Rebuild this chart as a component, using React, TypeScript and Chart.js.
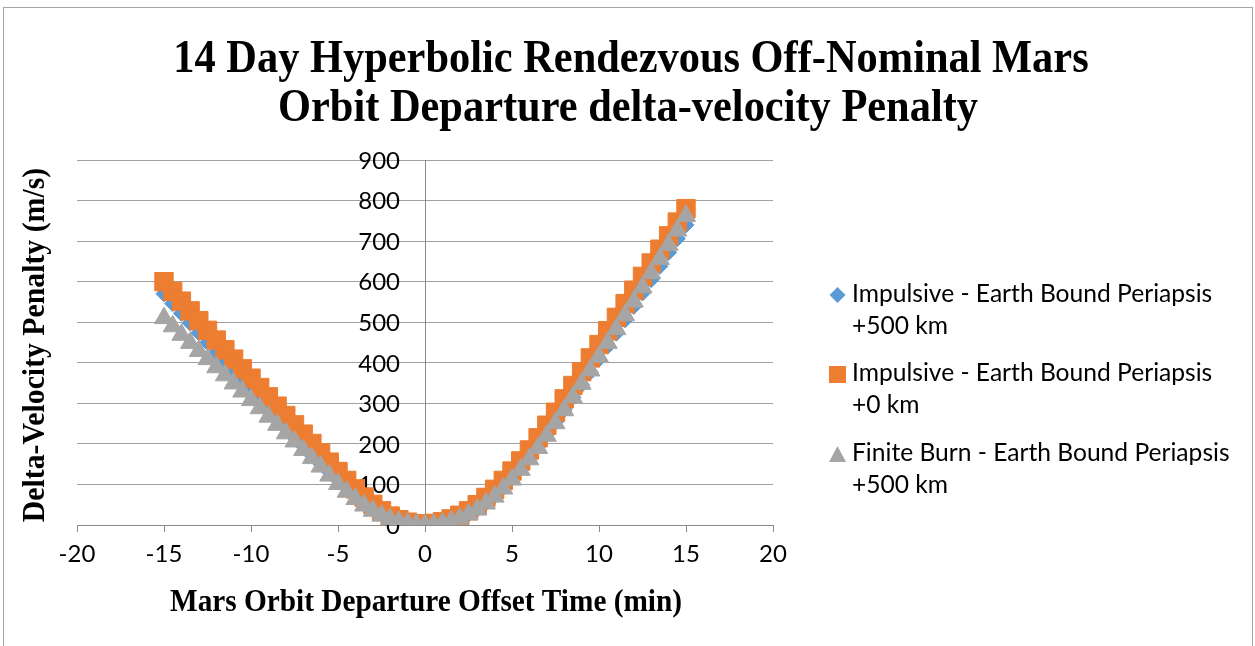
import React, { useEffect, useRef } from 'react';
import { Chart, registerables } from 'chart.js';

Chart.register(...registerables);

const titleLines = ['14 Day Hyperbolic Rendezvous Off-Nominal Mars', 'Orbit Departure delta-velocity Penalty'];
const xAxisTitle = 'Mars Orbit Departure Offset Time (min)';
const yAxisTitle = 'Delta-Velocity Penalty (m/s)';

const xTickValues = [-20, -15, -10, -5, 0, 5, 10, 15, 20];
const xTickLabels = ['-20', '-15', '-10', '-5', '0', '5', '10', '15', '20'];
const yTickValues = [0, 100, 200, 300, 400, 500, 600, 700, 800, 900];
const yTickLabels = ['0', '100', '200', '300', '400', '500', '600', '700', '800', '900'];

const seriesNames = [
  'Impulsive - Earth Bound Periapsis +500 km',
  'Impulsive - Earth Bound Periapsis +0 km',
  'Finite Burn - Earth Bound Periapsis +500 km',
];
const legendLines = [
  ['Impulsive - Earth Bound Periapsis', '+500 km'],
  ['Impulsive - Earth Bound Periapsis', '+0 km'],
  ['Finite Burn - Earth Bound Periapsis', '+500 km'],
];

// Mars orbit departure offset time (min)
const offsetTimes = [
  -15, -14.5, -14, -13.5, -13, -12.5, -12, -11.5, -11, -10.5,
  -10, -9.5, -9, -8.5, -8, -7.5, -7, -6.5, -6, -5.5,
  -5, -4.5, -4, -3.5, -3, -2.5, -2, -1.5, -1, -0.5,
  0, 0.5, 1, 1.5, 2, 2.5, 3, 3.5, 4, 4.5,
  5, 5.5, 6, 6.5, 7, 7.5, 8, 8.5, 9, 9.5,
  10, 10.5, 11, 11.5, 12, 12.5, 13, 13.5, 14, 14.5, 15,
];

// Impulsive - Earth Bound Periapsis +500 km (m/s)
const impulsive500 = [
  570, 546, 522, 498, 474, 450, 426, 402, 378, 354,
  330, 307, 284, 261, 238, 216, 194, 172, 151, 131,
  112, 93, 75, 58, 43, 30, 19, 11, 5, 2,
  0, 2, 5, 10, 17, 27, 39, 54, 72, 93,
  116, 141, 167, 195, 224, 254, 284, 315, 346, 377,
  409, 441, 473, 506, 539, 572, 605, 638, 672, 706, 740,
];

// Impulsive - Earth Bound Periapsis +0 km (m/s)
const impulsive0 = [
  600, 576, 552, 528, 504, 480, 456, 432, 409, 385,
  362, 339, 316, 293, 270, 247, 224, 201, 178, 155,
  132, 110, 89, 69, 51, 35, 22, 13, 7, 3,
  2, 4, 8, 15, 24, 35, 50, 68, 88, 110,
  133, 158, 185, 215, 246, 278, 311, 344, 378, 412,
  445, 479, 512, 546, 579, 613, 646, 680, 713, 747, 780,
];

// Finite Burn - Earth Bound Periapsis +500 km (m/s)
const finite500 = [
  510, 490, 469, 449, 429, 409, 389, 369, 349, 329,
  308, 288, 267, 247, 226, 206, 185, 165, 144, 122,
  101, 82, 64, 48, 35, 23, 14, 8, 4, 1,
  0, 1, 4, 9, 16, 26, 38, 53, 70, 90,
  112, 136, 162, 190, 220, 251, 283, 315, 348, 381,
  415, 449, 483, 517, 551, 586, 621, 656, 691, 726, 762,
];

const BLUE = '#5B9BD5';
const ORANGE = '#ED7D31';
const GRAY = '#A5A5A5';
const GRID = '#a0a0a0';
const AXIS = '#8a8a8a';
const SANS = 'Lato, "Noto Sans", sans-serif';
const SERIF = '"Liberation Serif", "Times New Roman", serif';
const TICK_SIZE = 24;
const LEGEND_SIZE = 24.6;

function drawMarker(ctx: CanvasRenderingContext2D, style: string, x: number, y: number, color: string) {
  ctx.fillStyle = color;
  ctx.beginPath();
  if (style === 'diamond') {
    const r = 8;
    ctx.moveTo(x - r, y);
    ctx.lineTo(x, y - r);
    ctx.lineTo(x + r, y);
    ctx.lineTo(x, y + r);
  } else if (style === 'square') {
    const h = 8.5;
    ctx.rect(x - h, y - h, 2 * h, 2 * h);
  } else {
    const w = 8.5;
    const h = 8;
    ctx.moveTo(x, y - h);
    ctx.lineTo(x + w, y + h);
    ctx.lineTo(x - w, y + h);
  }
  ctx.closePath();
  ctx.fill();
}

function condensedText(
  ctx: CanvasRenderingContext2D,
  text: string,
  x: number,
  y: number,
  sx: number,
  rotate = 0,
) {
  ctx.save();
  ctx.translate(x, y);
  if (rotate) ctx.rotate(rotate);
  ctx.scale(sx, 1);
  ctx.fillText(text, 0, 0);
  ctx.restore();
}

const textPlugin = {
  id: 'excelText',
  beforeDraw(chart: any) {
    const ctx = chart.ctx as CanvasRenderingContext2D;
    ctx.save();
    ctx.fillStyle = '#ffffff';
    ctx.fillRect(0, 0, chart.width, chart.height);
    ctx.strokeStyle = '#a6a6a6';
    ctx.lineWidth = 1;
    ctx.strokeRect(3.5, 7.5, 1249, 700);
    ctx.restore();
  },
  beforeDatasetsDraw(chart: any) {
    const ctx = chart.ctx as CanvasRenderingContext2D;
    const xs = chart.scales.x;
    const ys = chart.scales.y;
    ctx.save();
    ctx.fillStyle = '#000';
    ctx.font = `${TICK_SIZE}px ${SANS}`;
    ctx.textAlign = 'right';
    ctx.textBaseline = 'middle';
    const axisX = xs.getPixelForValue(0);
    yTickValues.forEach((v, i) => {
      ctx.fillText(yTickLabels[i], axisX - 25, ys.getPixelForValue(v) + 1);
    });
    ctx.restore();
  },
  afterDraw(chart: any) {
    const ctx = chart.ctx as CanvasRenderingContext2D;
    ctx.save();
    ctx.fillStyle = '#000';
    // title
    ctx.font = `bold 46px ${SERIF}`;
    ctx.textAlign = 'center';
    ctx.textBaseline = 'alphabetic';
    condensedText(ctx, titleLines[0], 631, 72, 0.922);
    condensedText(ctx, titleLines[1], 628, 121, 0.922);
    // x axis title
    ctx.font = `bold 32px ${SERIF}`;
    condensedText(ctx, xAxisTitle, 426, 611, 0.915);
    // y axis title
    condensedText(ctx, yAxisTitle, 44, 345, 0.93, -Math.PI / 2);
    // legend
    const styles = ['diamond', 'square', 'triangle'];
    const colors = [BLUE, ORANGE, GRAY];
    ctx.font = `${LEGEND_SIZE}px ${SANS}`;
    ctx.textAlign = 'left';
    legendLines.forEach((lines, i) => {
      const base = 301.5 + 79.5 * i;
      drawMarker(ctx, styles[i], 837.5, base - 6.5, colors[i]);
      ctx.fillStyle = '#000';
      ctx.fillText(lines[0], 852, base);
      ctx.fillText(lines[1], 852, base + 32);
    });
    ctx.restore();
  },
};

export default function App() {
  const canvasRef = useRef<HTMLCanvasElement | null>(null);

  useEffect(() => {
    const canvas = canvasRef.current;
    if (!canvas) return;
    const toPoints = (vals: number[]) => offsetTimes.map((t, i) => ({ x: t, y: vals[i] }));
    const chart = new Chart(canvas, {
      type: 'scatter',
      data: {
        datasets: [
          {
            label: seriesNames[0],
            data: toPoints(impulsive500),
            pointStyle: 'rectRot',
            pointRadius: 8,
            backgroundColor: BLUE,
            borderColor: BLUE,
            borderWidth: 1,
            showLine: false,
            order: 3,
          },
          {
            label: seriesNames[1],
            data: toPoints(impulsive0),
            pointStyle: 'rect',
            pointRadius: 13,
            backgroundColor: ORANGE,
            borderColor: ORANGE,
            borderWidth: 1,
            showLine: false,
            order: 2,
          },
          {
            label: seriesNames[2],
            data: toPoints(finite500),
            pointStyle: 'triangle',
            pointRadius: 11,
            backgroundColor: GRAY,
            borderColor: GRAY,
            borderWidth: 1,
            showLine: false,
            order: 1,
          },
        ],
      },
      options: {
        responsive: false,
        animation: false,
        events: [],
        layout: { padding: { left: 77, right: 482, top: 160, bottom: 61 } },
        plugins: {
          legend: { display: false },
          tooltip: { enabled: false },
          title: { display: false },
        },
        scales: {
          x: {
            type: 'linear',
            position: 'bottom',
            min: -20,
            max: 20,
            afterBuildTicks: (s: any) => {
              s.ticks = xTickValues.map((v) => ({ value: v }));
            },
            afterFit: (s: any) => {
              s.height = 60;
            },
            ticks: {
              autoSkip: false,
              maxRotation: 0,
              minRotation: 0,
              padding: 8,
              color: '#000',
              font: { family: SANS, size: TICK_SIZE },
              callback: (v: any) => xTickLabels[xTickValues.indexOf(Number(v))],
            },
            grid: { drawOnChartArea: false, drawTicks: true, tickLength: 7, color: AXIS, lineWidth: 1 },
            border: { display: true, color: AXIS, width: 1 },
          },
          y: {
            type: 'linear',
            position: { x: 0 },
            min: 0,
            max: 900,
            afterBuildTicks: (s: any) => {
              s.ticks = yTickValues.map((v) => ({ value: v }));
            },
            ticks: { display: false },
            grid: { color: GRID, drawTicks: false, lineWidth: 1 },
            border: { display: true, color: AXIS, width: 1 },
          },
        },
      } as any,
      plugins: [textPlugin],
    });
    return () => chart.destroy();
  }, []);

  return (
    <div style={{ position: 'fixed', left: 0, top: 0, width: 1255, height: 646, background: '#fff' }}>
      <canvas ref={canvasRef} width={1255} height={646} style={{ display: 'block', width: 1255, height: 646 }} />
    </div>
  );
}
